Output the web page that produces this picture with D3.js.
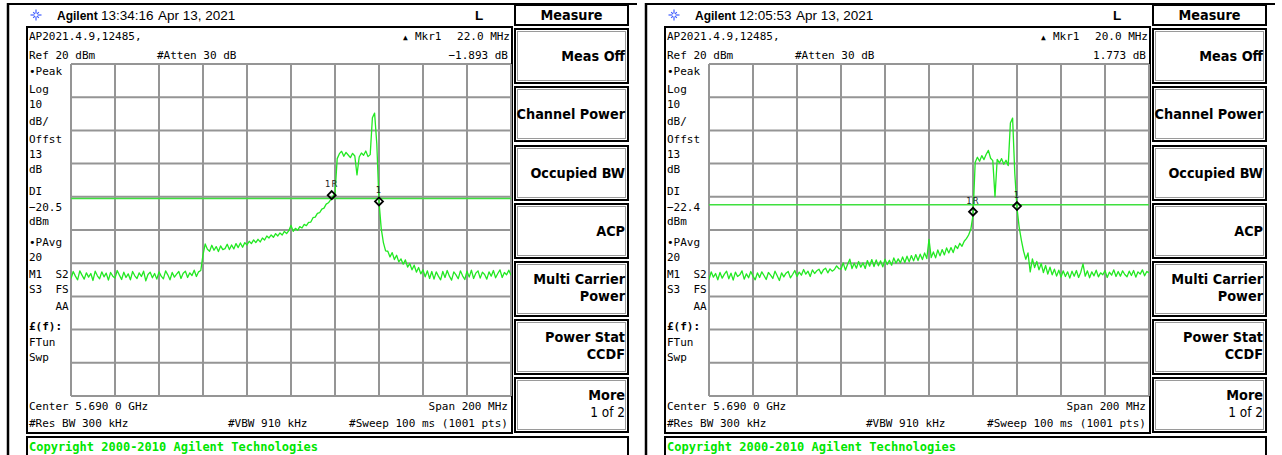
<!DOCTYPE html>
<html><head><meta charset="utf-8">
<script src="https://cdn.jsdelivr.net/npm/d3@7"></script>
<style>
html,body{margin:0;padding:0;background:#fff;}
svg{display:block;}
.mono{font-family:"DejaVu Sans Mono",monospace;font-size:11px;fill:#000;white-space:pre;}
.key{font-family:"DejaVu Sans Condensed","DejaVu Sans",sans-serif;font-stretch:condensed;font-weight:bold;font-size:14.3px;fill:#000;}
.keysub{font-family:"DejaVu Sans Condensed","DejaVu Sans",sans-serif;font-stretch:condensed;font-size:13.5px;fill:#000;}
.hdr{font-family:"Liberation Sans",Arial,sans-serif;font-size:13.5px;fill:#000;}
.brand{font-family:"Liberation Sans",Arial,sans-serif;font-size:12px;font-weight:bold;fill:#000;}
</style></head><body>
<svg id="c" width="1282" height="455"></svg>
<script>
// ---------- DATA ----------
const freqStartMHz = -100;   // offset from centre frequency, first trace point
const freqStepMHz = 1;       // spacing of trace points
const gridFreqs = [-100, -80, -60, -40, -20, 0, 20, 40, 60, 80, 100];
const gridLevels = [20, 10, 0, -10, -20, -30, -40, -50, -60, -70, -80];

// Left screenshot trace (dBm), -100 .. +100 MHz
const traceLeft = [
 -44.6,-42.5,-43.9,-45.0,-42.3,-43.6,-44.8,-42.9,-44.2,-43.1,
 -45.2,-42.4,-43.8,-44.7,-42.6,-44.1,-43.0,-45.1,-42.8,-43.9,
 -44.5,-42.2,-43.6,-44.9,-42.7,-44.3,-43.2,-45.0,-42.5,-43.8,
 -44.6,-42.9,-44.0,-42.4,-45.3,-43.4,-42.7,-44.4,-43.1,-44.8,
 -42.6,-43.9,-44.7,-42.3,-43.5,-45.0,-42.8,-44.2,-43.3,-42.5,
 -44.6,-43.0,-42.4,-44.3,-42.9,-43.7,-42.1,-44.0,-42.6,-42.2,
 -37.5,-34.2,-35.8,-36.4,-34.6,-36.1,-35.0,-36.5,-34.8,-35.9,
 -35.6,-34.3,-35.9,-34.5,-35.7,-34.1,-35.3,-33.9,-35.2,-33.8,
 -34.5,-33.4,-34.1,-33.0,-33.8,-32.8,-33.6,-32.4,-33.0,-31.8,
 -32.4,-31.5,-32.2,-31.1,-31.8,-30.9,-31.5,-30.4,-31.1,-30.2,
 -28.6,-30.4,-29.5,-30.1,-29.0,-29.4,-28.3,-28.7,-27.7,-27.6,
 -26.3,-26.1,-25.0,-24.8,-23.7,-23.4,-22.2,-21.8,-20.9,-19.9,
 -18.9,
 -8.5,-7.0,-6.3,-7.8,-6.6,-7.4,-8.2,-6.9,-7.7,-13.4,
 -8.0,-6.8,-7.5,-6.2,-7.9,-7.3,3.8,5.2,-4.0,
 -21.4,-29.5,-33.8,-36.3,-36.4,-38.1,-36.8,-38.9,-37.6,-39.6,
 -38.7,-40.3,-39.0,-41.2,-40.1,-42.0,-40.6,-42.7,-41.3,-43.2,
 -42.0,-44.1,-42.3,-44.6,-42.5,-44.8,-42.6,-43.9,-45.0,-42.5,
 -44.3,-42.2,-43.9,-45.1,-42.6,-43.5,-44.7,-42.3,-43.8,-44.9,
 -42.4,-44.2,-42.1,-44.6,-43.0,-42.3,-44.5,-42.7,-43.4,-44.8,
 -42.6,-43.9,-42.2,-44.4,-43.1,-42.0,-44.3,-42.8,-43.5,-42.1,-43.6
];
// Right screenshot trace (dBm), -100 .. +100 MHz
const traceRight = [
 -44.9,-42.6,-44.2,-43.1,-45.0,-42.8,-44.5,-43.3,-42.4,-44.7,
 -43.0,-45.1,-42.7,-44.0,-43.5,-42.3,-44.8,-43.2,-44.4,-42.5,
 -43.9,-45.0,-42.9,-44.3,-42.6,-43.7,-44.9,-42.8,-43.6,-44.6,
 -42.4,-43.8,-45.2,-42.9,-44.1,-43.0,-42.5,-44.4,-43.4,-42.2,
 -44.0,-42.7,-43.6,-41.9,-43.3,-42.4,-44.0,-42.0,-43.1,-42.3,
 -41.8,-43.2,-42.0,-41.5,-42.9,-41.7,-42.4,
 -41.9,-40.8,-41.6,
 -41.8,-39.9,-42.1,-40.3,-38.8,-41.6,-40.0,-41.5,-39.5,-41.2,
 -39.9,-41.6,-39.2,-40.9,-38.9,-41.0,-39.0,-40.8,-39.3,-41.1,
 -38.8,-40.4,-39.1,-40.6,-38.4,-40.0,-38.7,-39.9,-38.1,-39.8,
 -37.9,-39.6,-37.7,-39.3,-37.4,-39.2,-37.3,-38.9,-36.9,-38.6,
 -32.8,-38.3,-36.6,-38.4,-36.0,-37.8,-35.9,-37.5,-35.4,-36.9,
 -35.3,-36.8,-34.7,-35.6,-34.0,-34.9,-33.4,-32.6,-31.5,-29.8,
 -25.6,-9.6,-8.1,-9.3,-7.6,-8.8,-7.2,-6.0,-8.4,-9.1,
 -20.0,-8.7,-9.8,-8.5,-10.2,-9.0,-10.6,2.2,3.7,-13.0,
 -23.4,-29.2,-33.1,-36.4,-38.8,-36.9,-42.6,-38.7,-41.3,-39.5,
 -42.0,-40.1,-42.8,-40.7,-43.3,-41.2,-43.5,-41.8,-43.9,-42.1,
 -44.2,-42.3,-44.0,-42.6,-44.5,-42.4,-43.9,-42.2,-44.3,-42.7,
 -40.2,-43.9,-42.3,-44.4,-42.6,-43.8,-42.1,-44.1,-42.9,-43.5,
 -42.2,-44.3,-42.7,-43.6,-42.0,-44.0,-42.5,-43.9,-42.3,-43.4,
 -44.1,-42.4,-43.7,-42.2,-44.2,-42.6,-43.3,-42.0,-43.8,-42.5,-42.9
];

const panelTimes = ["13:34:16", "12:05:53"];
const panelDate = "Apr 13, 2021";
const fileTitle = "AP2021.4.9,12485,";
const mkrDeltaFreqText = ["22.0 MHz", "20.0 MHz"];
const mkrDeltaAmpText = ["\u22121.893 dB", "1.773 dB"];
const displayLineDbm = [-20.5, -22.4];
const displayLineText = ["\u221220.5", "\u221222.4"];
const markerFreqs = [[18.5, 40], [20, 40]];
const markerLevels = [[-19.5, -21.4], [-24.5, -22.8]];
const markerNames = ["1R", "1"];
const sidebarLabels = ["\u2022Peak","Log","10","dB/","Offst","13","dB","DI","DLVAL","dBm","\u2022PAvg","20","M1  S2","S3  FS","    AA","\u00A3(f):","FTun","Swp"];
const softKeyTitle = "Measure";
const softKeys = [["Meas Off"],["Channel Power"],["Occupied BW"],["ACP"],["Multi Carrier","Power"],["Power Stat","CCDF"],["More","1 of 2"]];
const footerLeft = ["Center 5.690 0 GHz", "#Res BW 300 kHz"];
const footerMid = "#VBW 910 kHz";
const footerRight = ["Span 200 MHz", "#Sweep 100 ms (1001 pts)"];
const copyrightText = "Copyright 2000-2010 Agilent Technologies";
const traces = [traceLeft, traceRight];

// ---------- DRAW ----------
const svg = d3.select("#c");
const panelOffsets = [0, 638];
const x = d3.scaleLinear().domain([-100, 100]).range([71, 511]);
const y = d3.scaleLinear().domain([20, -80]).range([64, 396]);
const sidebarY = [75, 93, 108, 125, 143, 158, 173, 195, 211, 225, 246, 261, 278, 293, 310, 330, 346, 361];
const keyTops = [29, 87, 146, 204, 262, 320, 378];

svg.append("defs").append("clipPath").attr("id","plotclip")
  .append("rect").attr("x",71).attr("y",64).attr("width",440).attr("height",332);

panelOffsets.forEach((dx, p) => {
  const g = svg.append("g").attr("transform", `translate(${dx},0)`);
  g.append("line").attr("x1",8).attr("x2",8).attr("y1",3).attr("y2",455).attr("stroke","#000").attr("stroke-width",2.5);
  g.append("line").attr("x1",8).attr("x2",637).attr("y1",4).attr("y2",4).attr("stroke","#000").attr("stroke-width",2);

  const star = g.append("g").attr("transform","translate(36,15)");
  d3.range(8).forEach(k => {
    const a = k * Math.PI / 4, r = (k % 2 === 0) ? 5.5 : 4;
    star.append("line").attr("x1",Math.cos(a)*1.5).attr("y1",Math.sin(a)*1.5)
      .attr("x2",Math.cos(a)*r).attr("y2",Math.sin(a)*r)
      .attr("stroke","#3f5cff").attr("stroke-width",1.2);
  });
  g.append("text").attr("class","brand").attr("x",57).attr("y",20).text("Agilent");
  g.append("text").attr("class","hdr").attr("x",101).attr("y",20).text(panelTimes[p]);
  g.append("text").attr("class","hdr").attr("x",158).attr("y",20).text(panelDate);
  g.append("text").attr("class","hdr").attr("x",475).attr("y",20).style("font-weight","bold").text("L");

  g.append("rect").attr("x",27).attr("y",27).attr("width",485).attr("height",406)
    .attr("fill","none").attr("stroke","#000").attr("stroke-width",2);

  g.append("text").attr("class","mono").attr("x",29).attr("y",40).text(fileTitle);
  g.append("text").attr("class","mono").attr("x",403).attr("y",40).style("font-size","8px").text("\u25B2");
  g.append("text").attr("class","mono").attr("x",415).attr("y",40).text("Mkr1");
  g.append("text").attr("class","mono").attr("x",510).attr("y",40).attr("text-anchor","end").text(mkrDeltaFreqText[p]);
  g.append("text").attr("class","mono").attr("x",29).attr("y",59).text("Ref 20 dBm");
  g.append("text").attr("class","mono").attr("x",157).attr("y",59).text("#Atten 30 dB");
  g.append("text").attr("class","mono").attr("x",508).attr("y",59).attr("text-anchor","end").text(mkrDeltaAmpText[p]);

  sidebarLabels.forEach((s, i) => {
    const t = g.append("text").attr("class","mono").attr("x",29).attr("y",sidebarY[i])
      .text(s === "DLVAL" ? displayLineText[p] : s);
    if (s.startsWith("\u00A3")) t.style("font-weight","bold");
  });

  const grid = g.append("g");
  gridFreqs.forEach(f => grid.append("line").attr("x1",x(f)).attr("x2",x(f)).attr("y1",y(20)).attr("y2",y(-80))
    .attr("stroke","#959595").attr("stroke-width",2));
  gridLevels.forEach(l => grid.append("line").attr("x1",x(-100)).attr("x2",x(100)).attr("y1",y(l)).attr("y2",y(l))
    .attr("stroke","#959595").attr("stroke-width",2));

  g.append("line").attr("x1",x(-100)).attr("x2",x(100)).attr("y1",y(displayLineDbm[p])).attr("y2",y(displayLineDbm[p]))
    .attr("stroke","#3fe03f").attr("stroke-width",1.5);

  const line = d3.line().x((d, i) => x(freqStartMHz + i * freqStepMHz)).y(d => y(d));
  g.append("path").attr("d", line(traces[p])).attr("fill","none")
    .attr("stroke","#22e822").attr("stroke-width",1.3).attr("stroke-linejoin","round")
    .attr("clip-path","url(#plotclip)");

  markerFreqs[p].forEach((f, k) => {
    const cx = x(f), cy = y(markerLevels[p][k]);
    g.append("path").attr("d",`M${cx},${cy-4}L${cx+4},${cy}L${cx},${cy+4}L${cx-4},${cy}Z`)
      .attr("fill","none").attr("stroke","#000").attr("stroke-width",1.8);
    g.append("text").attr("x",cx).attr("y",cy-8).attr("text-anchor","middle")
      .attr("font-family","DejaVu Sans, sans-serif").attr("font-size",8.5).attr("fill","#222")
      .attr("letter-spacing",1).text(markerNames[k]);
  });

  g.append("text").attr("class","mono").attr("x",29).attr("y",410).text(footerLeft[0]);
  g.append("text").attr("class","mono").attr("x",508).attr("y",410).attr("text-anchor","end").text(footerRight[0]);
  g.append("text").attr("class","mono").attr("x",29).attr("y",427).text(footerLeft[1]);
  g.append("text").attr("class","mono").attr("x",228).attr("y",427).text(footerMid);
  g.append("text").attr("class","mono").attr("x",508).attr("y",427).attr("text-anchor","end").text(footerRight[1]);

  g.append("rect").attr("x",27).attr("y",437).attr("width",601).attr("height",30)
    .attr("fill","none").attr("stroke","#000").attr("stroke-width",2);
  g.append("text").attr("x",29).attr("y",451).attr("font-family","DejaVu Sans Mono, monospace")
    .attr("font-weight","bold").attr("font-size",12).attr("fill","#00e600").text(copyrightText);

  g.append("rect").attr("x",515).attr("y",5).attr("width",113).attr("height",20)
    .attr("fill","none").attr("stroke","#000").attr("stroke-width",2);
  g.append("text").attr("class","key").attr("x",571.5).attr("y",20).attr("text-anchor","middle").text(softKeyTitle);
  softKeys.forEach((lines, i) => {
    const top = keyTops[i];
    g.append("rect").attr("x",515).attr("y",top).attr("width",113).attr("height",54)
      .attr("fill","none").attr("stroke","#000").attr("stroke-width",2);
    g.append("rect").attr("x",517.5).attr("y",top+2.5).attr("width",108).attr("height",49)
      .attr("fill","none").attr("stroke","#9a9a9a").attr("stroke-width",1);
    if (lines.length === 1) {
      g.append("text").attr("class","key").attr("x",625).attr("y",top+32).attr("text-anchor","end").text(lines[0]);
    } else {
      g.append("text").attr("class","key").attr("x",625).attr("y",top+22).attr("text-anchor","end").text(lines[0]);
      g.append("text").attr("class", lines[0] === "More" ? "keysub" : "key").attr("x",625).attr("y",top+39)
        .attr("text-anchor","end").text(lines[1]);
    }
  });
});
</script>
</body></html>
